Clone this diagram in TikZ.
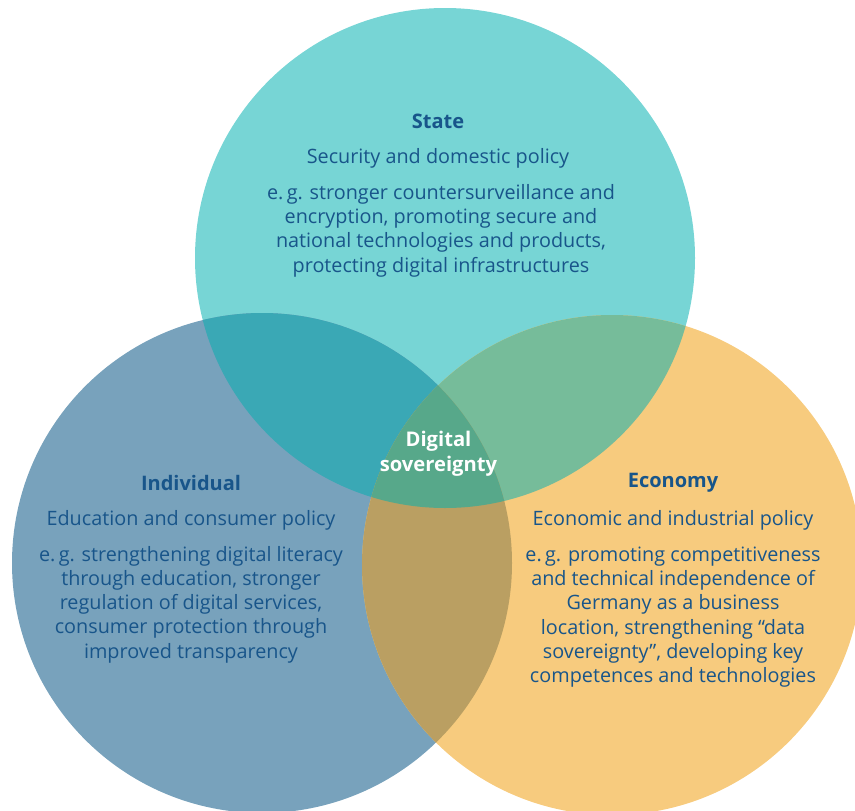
\documentclass[tikz,border=0pt]{standalone}
\usepackage{fontspec}
\setmainfont{Open Sans}
\definecolor{cstate}{HTML}{77D5D5}
\definecolor{cind}{HTML}{78A2BC}
\definecolor{cecon}{HTML}{F7CB7E}
\definecolor{csi}{HTML}{3AA8B5}
\definecolor{cse}{HTML}{76BC9A}
\definecolor{cie}{HTML}{BA9F62}
\definecolor{call}{HTML}{57A88A}
\definecolor{ctext}{HTML}{18558A}
\begin{document}
\begin{tikzpicture}[x=1pt,y=-1pt,
  title/.style={font=\fontsize{20}{24}\selectfont\bfseries, text=ctext, inner sep=0pt},
  sub/.style={font=\fontsize{19.8}{24.3}\selectfont, text=ctext, inner sep=0pt},
  body/.style={font=\fontsize{19.8}{24.3}\selectfont, text=ctext, align=center, inner sep=0pt},
  centre/.style={font=\fontsize{20.2}{25}\selectfont\bfseries, text=white, align=center, inner sep=0pt}]
\useasboundingbox (0,0) rectangle (855,811);
\begin{scope}
\clip (0,0) rectangle (855,811);
\def\Rs{(445,258) circle (250)}
\def\Ri{(262,563) circle (250)}
\def\Re{(612,565) circle (250)}
\fill[cstate] \Rs;
\fill[cind] \Ri;
\fill[cecon] \Re;
\begin{scope}\clip \Rs; \fill[csi] \Ri; \fill[cse] \Re; \end{scope}
\begin{scope}\clip \Ri; \fill[cie] \Re; \end{scope}
\begin{scope}\clip \Rs; \clip \Ri; \fill[call] \Re; \end{scope}
\end{scope}
\node[title] (st) at (438,121) {State};
\node[sub] (sts) at (438,158.5) {Security and domestic policy};
\node[body] (stb) at (441,230.5) {e.\,g. stronger countersurveillance and\\encryption, promoting secure and\\national technologies and products,\\protecting digital infrastructures};
\node[title] (in) at (191,483) {Individual};
\node[sub] (ins) at (191,520.5) {Education and consumer policy};
\node[body] (inb) at (191,604.5) {e.\,g. strengthening digital literacy\\through education, stronger\\regulation of digital services,\\consumer protection through\\improved transparency};
\node[title] (ec) at (673,483) {Economy};
\node[sub] (ecs) at (673,520.5) {Economic and industrial policy};
\node[body] (ecb) at (673,617) {e.\,g. promoting competitiveness\\and technical independence of\\Germany as a business\\location, strengthening “data\\sovereignty”, developing key\\competences and technologies};
\node[centre] (ds) at (438.5,454) {Digital\\sovereignty};
\end{tikzpicture}
\end{document}
